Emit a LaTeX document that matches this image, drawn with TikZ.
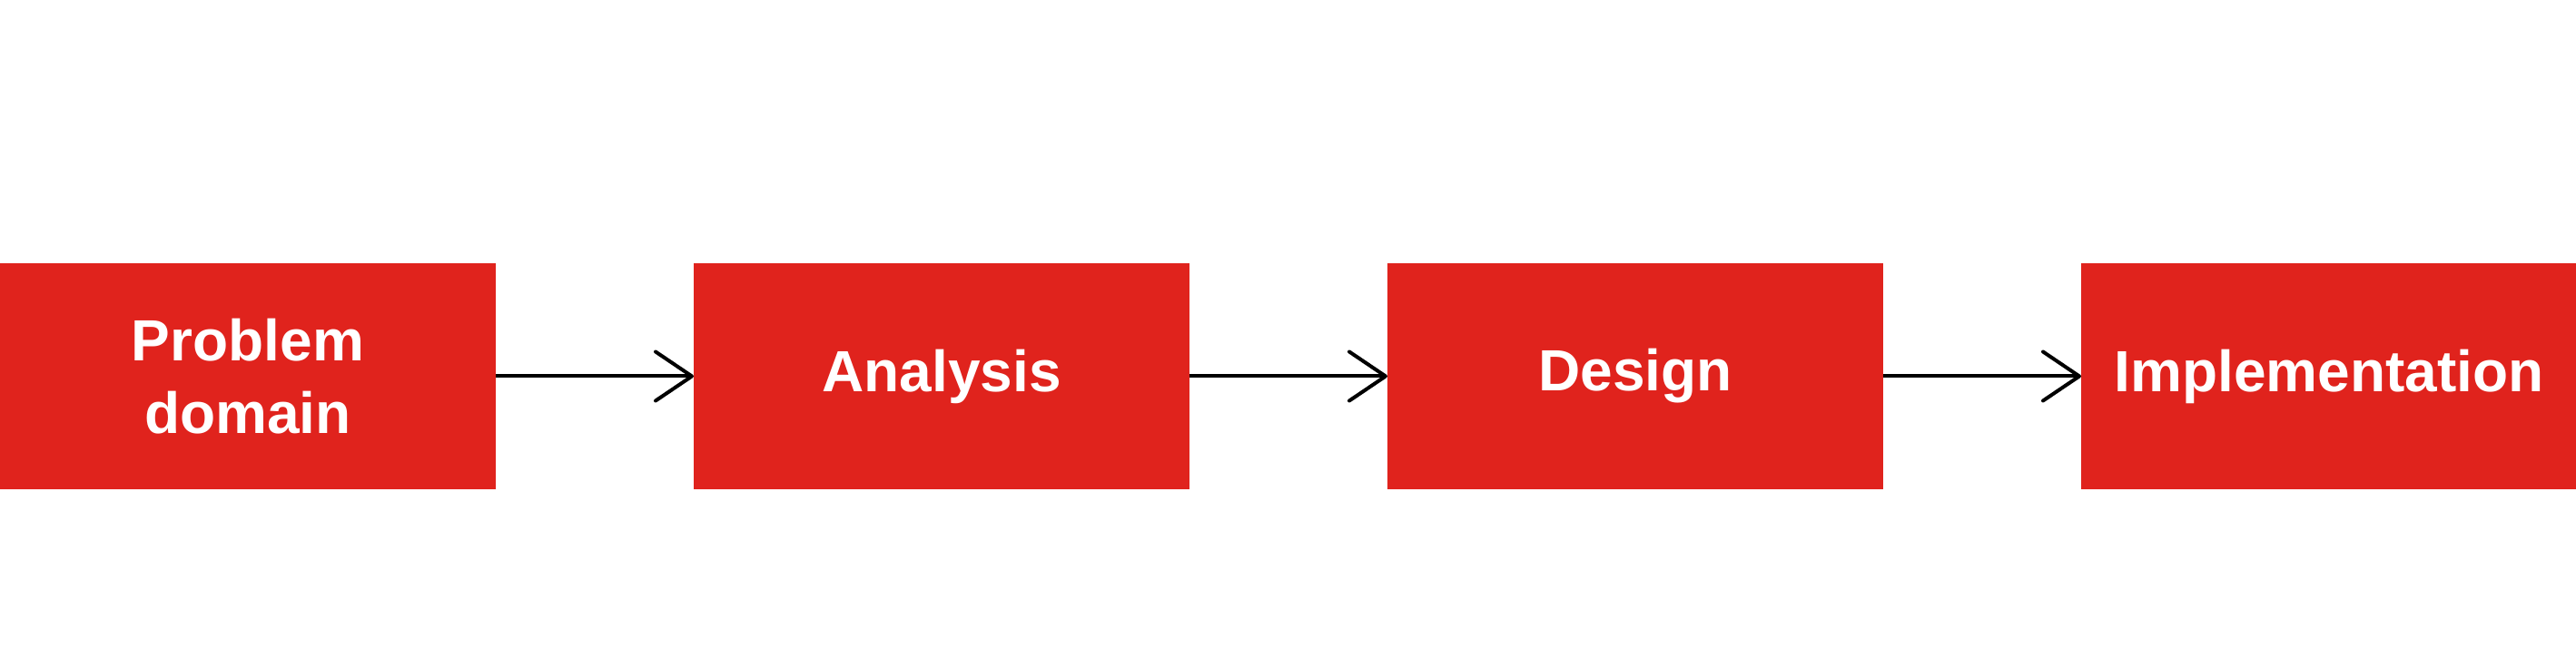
\documentclass[tikz,border=0pt]{standalone}
\usepackage{fontspec}
\setmainfont{Liberation Sans}
\usepackage{tikz}
\usetikzlibrary{positioning, arrows.meta}
\usepackage{xcolor}
\definecolor{boxred}{RGB}{224,35,29}

\begin{document}
\begin{tikzpicture}[x=1pt, y=1pt,
    stagebox/.style={fill=boxred, text=white, font=\bfseries\fontsize{32}{40}\selectfont,
        minimum width=273pt, minimum height=124.5pt, inner sep=0pt, outer sep=0pt, align=center},
    flow/.style={-{Straight Barb[length=20pt, width=27pt, round]}, line width=2pt}]
    % Area
    \useasboundingbox (0,0) rectangle (1418.5,363);
    % Etapas
    \node[stagebox, anchor=west] (problem) at (0,155.75) {Problem\\domain};
    \node[stagebox, right=109pt of problem] (analysis) {Analysis};
    \node[stagebox, right=109pt of analysis] (design) {Design};
    \node[stagebox, right=109pt of design] (implementation) {Implementation};
    % Setas
    \draw[flow] (problem) -- (analysis);
    \draw[flow] (analysis) -- (design);
    \draw[flow] (design) -- (implementation);
\end{tikzpicture}
\end{document}
